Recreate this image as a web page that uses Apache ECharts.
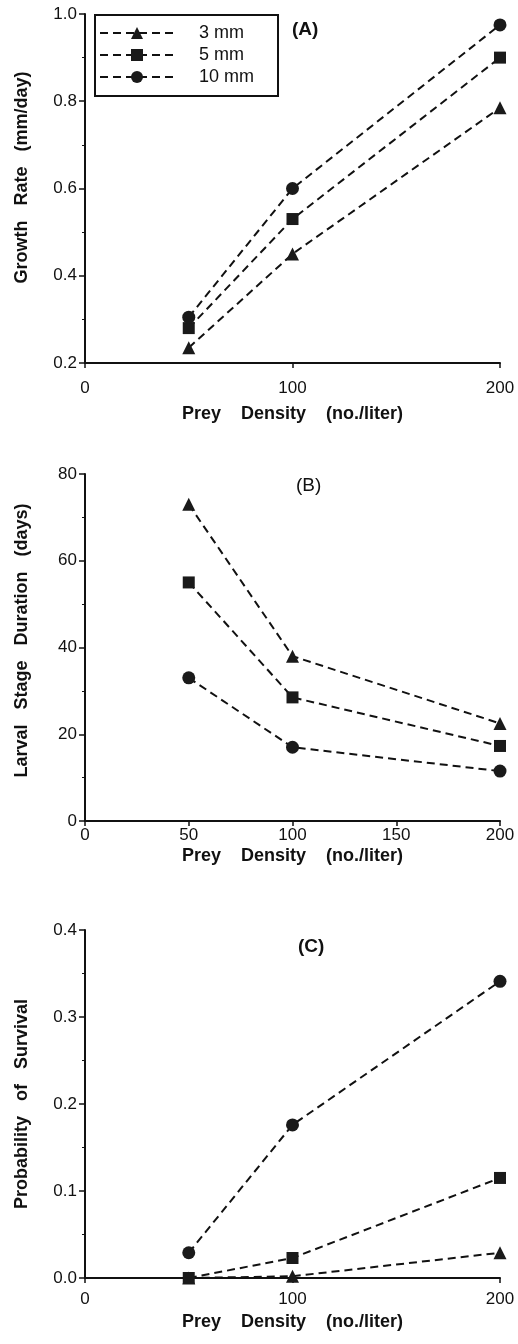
<!DOCTYPE html>
<html>
	<head>
		<meta charset="UTF-8">
		<title>Prey density</title>
		<script src="https://cdn.jsdelivr.net/npm/echarts/dist/echarts.min.js"></script>
	</head>
	<body style="margin:0;background:#fff;">
		<div id="main" style="width:518px;height:1344px;"></div>
		<script>
			// 数据
			var preyDensity = [50, 100, 200];
			var sizeNames = ['3 mm', '5 mm', '10 mm'];
			var sizeSymbols = ['triangle', 'rect', 'circle'];

			// (A) growth rate, mm/day
			var growth3 = [0.235, 0.45, 0.785];
			var growth5 = [0.28, 0.53, 0.90];
			var growth10 = [0.305, 0.60, 0.975];

			// (B) larval stage duration, days
			var duration3 = [73, 38, 22.5];
			var duration5 = [55, 28.5, 17.3];
			var duration10 = [33, 17, 11.5];

			// (C) probability of survival
			var survival3 = [0, 0.002, 0.029];
			var survival5 = [0, 0.023, 0.115];
			var survival10 = [0.029, 0.176, 0.341];

			var font = "'Liberation Sans', Arial, Helvetica, sans-serif";

			function pairs(ys){
				return preyDensity.map(function(x, i){ return [x, ys[i]]; });
			}

			function makeSeries(idx, name, symbol, ys){
				return {
					name: name,
					type: 'line',
					xAxisIndex: idx,
					yAxisIndex: idx,
					data: pairs(ys),
					symbol: symbol,
					symbolSize: symbol == 'rect' ? 12 : 13,
					showAllSymbol: true,
					z: 3,
					lineStyle: {color: '#111', width: 2, type: [8, 5]},
					itemStyle: {color: '#1a1a1a'},
					emphasis: {disabled: true},
					animation: false
				};
			}

			function xAxis(idx, interval, labelMargin, nameGap){
				return {
					type: 'value',
					gridIndex: idx,
					min: 0, max: 200, interval: interval,
					name: 'Prey    Density    (no./liter)',
					nameLocation: 'middle',
					nameGap: nameGap,
					nameTextStyle: {fontFamily: font, fontWeight: 'bold', fontSize: 18, color: '#111'},
					axisLine: {lineStyle: {color: '#111', width: 2}},
					axisTick: {length: 5, lineStyle: {color: '#111', width: 1.5}},
					axisLabel: {margin: labelMargin, fontFamily: font, fontSize: 17, color: '#111'},
					splitLine: {show: false}
				};
			}

			function yAxis(idx, min, max, interval, name, shift, fmt){
				return {
					type: 'value',
					gridIndex: idx,
					min: min, max: max, interval: interval,
					name: name,
					nameLocation: 'middle',
					nameGap: 54,
					nameTextStyle: {fontFamily: font, fontWeight: 'bold', fontSize: 18, color: '#111', padding: [0, 0, 0, shift]},
					axisLine: {lineStyle: {color: '#111', width: 2}},
					axisTick: {length: 6, lineStyle: {color: '#111', width: 1.5}},
					minorTick: {show: true, splitNumber: 2, length: 3, lineStyle: {color: '#111', width: 1}},
					axisLabel: {margin: 8, fontFamily: font, fontSize: 17, color: '#111', formatter: fmt},
					splitLine: {show: false}
				};
			}

			var option = {
				animation: false,
				title: [
					{text: '(A)', left: 287, top: 15, textStyle: {fontFamily: font, fontWeight: 'bold', fontSize: 19, color: '#111'}},
					{text: '(B)', left: 291, top: 471, textStyle: {fontFamily: font, fontWeight: 'normal', fontSize: 19, color: '#111'}},
					{text: '(C)', left: 293, top: 932, textStyle: {fontFamily: font, fontWeight: 'bold', fontSize: 19, color: '#111'}}
				],
				legend: {
					data: sizeNames,
					orient: 'vertical',
					left: 95,
					top: 15,
					padding: [9, 24, 10, 4],
					itemWidth: 74,
					itemHeight: 15,
					itemGap: 4,
					borderColor: '#111',
					borderWidth: 2,
					selectedMode: false,
					textStyle: {fontFamily: font, fontSize: 18, lineHeight: 15, color: '#111', padding: [0, 0, 0, 20]}
				},
				grid: [
					{left: 85, top: 14, width: 415, height: 349},
					{left: 85, top: 474, width: 415, height: 347},
					{left: 85, top: 930, width: 415, height: 348}
				],
				xAxis: [
					xAxis(0, 100, 17, 42),
					xAxis(1, 50, 6, 26),
					xAxis(2, 100, 13, 35)
				],
				yAxis: [
					yAxis(0, 0.2, 1.0, 0.2, 'Growth   Rate   (mm/day)', 22, function(v){ return v.toFixed(1); }),
					yAxis(1, 0, 80, 20, 'Larval   Stage   Duration   (days)', 14),
					yAxis(2, 0, 0.4, 0.1, 'Probability   of   Survival', 0, function(v){ return v.toFixed(1); })
				],
				series: [
					makeSeries(0, sizeNames[0], sizeSymbols[0], growth3),
					makeSeries(0, sizeNames[1], sizeSymbols[1], growth5),
					makeSeries(0, sizeNames[2], sizeSymbols[2], growth10),
					makeSeries(1, sizeNames[0], sizeSymbols[0], duration3),
					makeSeries(1, sizeNames[1], sizeSymbols[1], duration5),
					makeSeries(1, sizeNames[2], sizeSymbols[2], duration10),
					makeSeries(2, sizeNames[0], sizeSymbols[0], survival3),
					makeSeries(2, sizeNames[1], sizeSymbols[1], survival5),
					makeSeries(2, sizeNames[2], sizeSymbols[2], survival10)
				]
			};

			var myChart = echarts.init(document.getElementById('main'));
			myChart.setOption(option, true);
		</script>
	</body>
</html>
